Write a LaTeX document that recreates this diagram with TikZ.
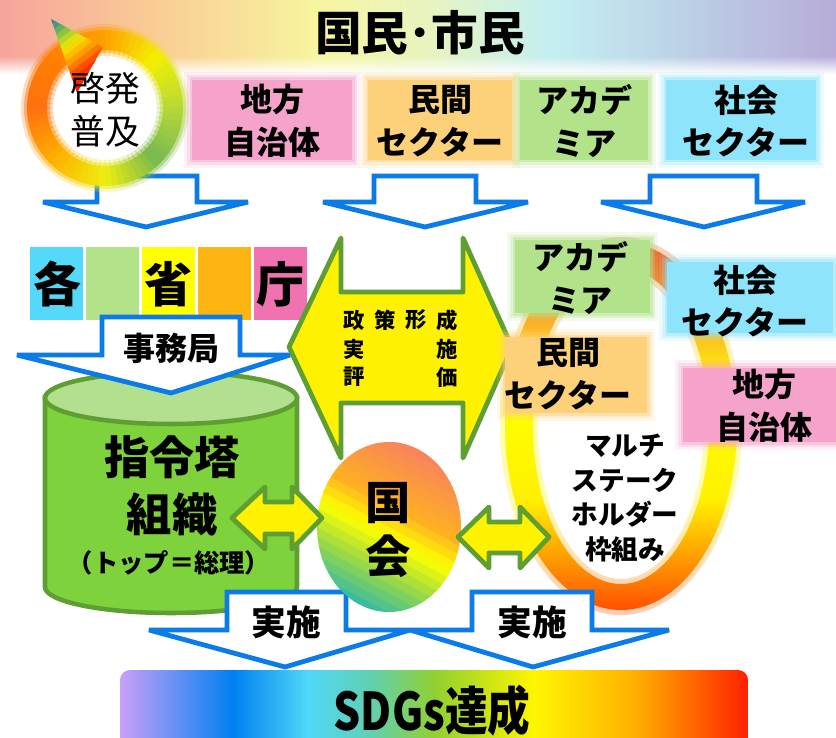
\documentclass[tikz,border=0pt]{standalone}
\usepackage{fontspec}
\setmainfont{Noto Sans CJK JP}
\newfontfamily\jpcond{Noto Sans CJK JP}[FakeStretch=0.82]
\usetikzlibrary{fadings}
\newcommand\jf[2]{\fontsize{#1}{#2}\selectfont}
% colours
\definecolor{bnA}{HTML}{F7A39C}\definecolor{bnB}{HTML}{F9CB94}\definecolor{bnC}{HTML}{F8F59F}
\definecolor{bnD}{HTML}{E6F4C2}\definecolor{bnE}{HTML}{C4EEF2}\definecolor{bnF}{HTML}{BCD0E6}
\definecolor{bnG}{HTML}{B8ACD8}
\definecolor{pinkbox}{HTML}{F5A3CB}\definecolor{orangebox}{HTML}{FDD07A}
\definecolor{greenbox}{HTML}{B2E28A}\definecolor{cyanbox}{HTML}{8EE4FA}
\definecolor{scA}{HTML}{55D9FB}\definecolor{scB}{HTML}{B2E28A}\definecolor{scC}{HTML}{FFFF00}
\definecolor{scD}{HTML}{FFB511}\definecolor{scE}{HTML}{F172B0}
\definecolor{cylbody}{HTML}{7ED23C}\definecolor{cyltop}{HTML}{B3E08E}\definecolor{leaf}{HTML}{5E9E32}
\definecolor{arrowblue}{HTML}{0A7BE8}
\definecolor{rc0}{HTML}{B8D838}\definecolor{rc1}{HTML}{F4F000}\definecolor{rc2}{HTML}{FFA000}
\definecolor{rc3}{HTML}{FF8000}\definecolor{rc4}{HTML}{FF7010}\definecolor{rc5}{HTML}{FFB000}
\definecolor{rc6}{HTML}{EEEE10}\definecolor{rc7}{HTML}{78B850}
\definecolor{brA}{HTML}{FF5000}\definecolor{brB}{HTML}{FFA000}\definecolor{brC}{HTML}{FFF000}
\definecolor{brD}{HTML}{FFFF00}\definecolor{brE}{HTML}{FFE010}\definecolor{brF}{HTML}{F8A030}
\definecolor{brG}{HTML}{F05A28}
\definecolor{sdA}{HTML}{C8A0F8}\definecolor{sdB}{HTML}{0080F0}\definecolor{sdC}{HTML}{50D8F8}
\definecolor{sdD}{HTML}{60D0B0}\definecolor{sdE}{HTML}{90D030}\definecolor{sdF}{HTML}{FFF500}
\definecolor{sdG}{HTML}{FFB000}\definecolor{sdH}{HTML}{FF2000}
% shadings
\pgfdeclarehorizontalshading{bannershade}{100bp}{color(0bp)=(bnA); color(25bp)=(bnA); color(34bp)=(bnB); color(44bp)=(bnC); color(51bp)=(bnD); color(58bp)=(bnE); color(66bp)=(bnF); color(75bp)=(bnG); color(100bp)=(bnG)}
\pgfdeclarehorizontalshading{sdg}{100bp}{color(0bp)=(sdA); color(25bp)=(sdA); color(34bp)=(sdB); color(40bp)=(sdC); color(45bp)=(sdD); color(50bp)=(sdE); color(58bp)=(sdF); color(66bp)=(sdG); color(75bp)=(sdH); color(100bp)=(sdH)}
\pgfdeclareverticalshading{bigring}{100bp}{color(0bp)=(brA); color(25bp)=(brA); color(32.5bp)=(brB); color(40bp)=(brC); color(52.5bp)=(brD); color(58.5bp)=(brE); color(66bp)=(brF); color(75bp)=(brG); color(100bp)=(brG)}
\tikzfading[name=fadedown, top color=transparent!0, bottom color=transparent!100]
\newcommand\fuzzybox[5]{%
  \foreach \e/\o in {8/0.15,5/0.25,2.5/0.4}{\fill[#1,opacity=\o] (#2-\e,#3-\e) rectangle (#4+\e,#5+\e);}
  \fill[#1] (#2,#3) rectangle (#4,#5);}
\tikzset{
  barrow/.style={draw=arrowblue, line width=3.6pt, fill=white, line join=miter, miter limit=2},
  yarrow/.style={draw=leaf, line width=3.6pt, fill=yellow, line join=round},
  boxtext/.style={font={\bfseries\jf{24}{32}}, align=center, inner sep=0pt},
  bold/.style={font={\bfseries\jf{#1}{#1}}, inner sep=0pt, align=center},
  polchar/.style={font={\bfseries\jf{16}{16}}, inner sep=0pt}
}
\begin{document}
\begin{tikzpicture}[x=0.75pt,y=-0.75pt]
\useasboundingbox (0,0) rectangle (836,738);
\fill[white] (0,0) rectangle (836,738);
% banner
\shade[shading=bannershade] (0,0) rectangle (836,56);
\shade[shading=bannershade, path fading=fadedown] (0,56) rectangle (836,74);
\node[bold=35] (title) at (420,33) {国民･市民};
% row 2 boxes
\fuzzybox{pinkbox}{192}{80}{352}{160}
\fuzzybox{orangebox}{368}{80}{512}{160}
\fuzzybox{greenbox}{520}{80}{648}{160}
\fuzzybox{cyanbox}{666}{80}{816}{160}
\node[boxtext] (tA) at (272,121) {地方\\自治体};
\node[boxtext] (tB) at (440,121) {民間\\セクター};
\node[boxtext] (tC) at (584,121) {アカデ\\ミア};
\node[boxtext] (tD) at (746,121) {社会\\セクター};
% row 3 arrows
\draw[barrow] (97,176) -- (97,202) -- (43,202) -- (146,227) -- (248,202) -- (197,202) -- (197,176) -- cycle;
\draw[barrow] (374,176) -- (374,202) -- (323,202) -- (425,227) -- (528,202) -- (476,202) -- (476,176) -- cycle;
\draw[barrow] (650,176) -- (650,202) -- (601,202) -- (704,227) -- (805,202) -- (757,202) -- (757,176) -- cycle;
% keihatsu ring (angles counter-clockwise from east, drawn in canvas units)
\fill[white] (105,108) circle[radius=60];
\foreach \w/\o/\ov in {32/0.25/0.4, 26/0.45/0.4, 20/1/0.8}{
  \foreach \a in {0,5,...,355}{
    \pgfmathtruncatemacro\k{floor((\a+2.5)/45)}
    \pgfmathtruncatemacro\kn{mod(\k+1,8)}
    \pgfmathtruncatemacro\p{round(100*(1-(\a+2.5-45*\k)/45))}
    \colorlet{segc}{rc\k!\p!rc\kn}
    \draw[segc, line width=\w*0.75pt, opacity=\o] ({105+68*cos(\a)},{108-68*sin(\a)}) arc[start angle=\a, end angle=\a+5+\ov, radius=51pt];
  }
}
% gradient triangle drawn as stripes
\begin{scope}
\clip (51,19) -- (103,47) -- (77,93) -- cycle;
\foreach \t/\c in {0/2A86A0, 5.5/4A9A80, 11/6AAE60, 16.5/8CC43E, 22/B8D428, 27.5/E0E010, 33/F5D800, 38.5/FFBC00, 44/FF9C00, 49.5/FF7800, 55/FF5000, 60.5/FF3000, 66/FF2000, 71.5/FF1800}{
  \definecolor{tc}{HTML}{\c}
  \fill[tc] ({51+(\t-1)*0.607-100*0.794},{19+(\t-1)*0.794+100*0.607}) -- ({51+(\t-1)*0.607+100*0.794},{19+(\t-1)*0.794-100*0.607}) -- ({51+(\t+6)*0.607+100*0.794},{19+(\t+6)*0.794-100*0.607}) -- ({51+(\t+6)*0.607-100*0.794},{19+(\t+6)*0.794+100*0.607}) -- cycle;
}
\end{scope}
\node[font={\jf{26}{32}}, align=center, inner sep=0pt] (keihatsu) at (105,110) {啓発\\普及};
% kakushocho
\fill[scA] (30,247) rectangle (83,320);
\fill[scB] (86,247) rectangle (139,320);
\fill[scC] (142,247) rectangle (195,320);
\fill[scD] (198,247) rectangle (251,320);
\fill[scE] (254,247) rectangle (307,320);
\node[bold=36] (kaku) at (57,284) {各};
\node[bold=36] (sho) at (168,284) {省};
\node[bold=36] (cho) at (280,284) {庁};
% cylinder
\filldraw[fill=cylbody, draw=leaf, line width=3.4pt] (45,398) -- (45,587) .. controls (45,601.4) and (101.4,613) .. (171,613) .. controls (240.6,613) and (297,601.4) .. (297,587) -- (297,398) -- cycle;
\filldraw[fill=cyltop, draw=leaf, line width=3.4pt] (171,398) ellipse[x radius=126, y radius=26];
\node[font={\bfseries\jf{34}{43}}, align=center, inner sep=0pt] (shirei) at (172,486) {指令塔\\組織};
\node[bold=19] (top) at (169,563) {（トップ＝総理）};
% jimukyoku arrow
\draw[barrow] (102,317) -- (102,355) -- (17,355) -- (171,393) -- (290,355) -- (240,355) -- (240,317) -- cycle;
\node[bold=24] (jimu) at (171,348) {事務局};
% policy double arrow
\draw[yarrow] (289,347) -- (341,238) -- (341,292) -- (463,292) -- (463,238) -- (512,347) -- (463,458) -- (463,403) -- (341,403) -- (341,458) -- cycle;
\node[polchar] (p1) at (354,320) {政};
\node[polchar] (p2) at (385,320) {策};
\node[polchar] (p3) at (416,320) {形};
\node[polchar] (p4) at (447,320) {成};
\node[polchar] (p5) at (354,349) {実};
\node[polchar] (p6) at (447,349) {施};
\node[polchar] (p7) at (354,377) {評};
\node[polchar] (p8) at (447,377) {価};
% big ring
\shade[shading=bigring, even odd rule, opacity=0.3] (621,426) ellipse[x radius=121, y radius=189] (621,426) ellipse[x radius=83, y radius=153];
\shade[shading=bigring, even odd rule] (621,426) ellipse[x radius=116, y radius=184] (621,426) ellipse[x radius=88, y radius=158];
\fuzzybox{greenbox}{515}{240}{650}{313}
\fuzzybox{cyanbox}{667}{262}{833}{333}
\fuzzybox{orangebox}{505}{337}{647}{413}
\fuzzybox{pinkbox}{683}{368}{836}{442}
\node[boxtext] (rA) at (580,278) {アカデ\\ミア};
\node[boxtext] (rB) at (745,301) {社会\\セクター};
\node[boxtext] (rC) at (568,374) {民間\\セクター};
\node[boxtext] (rD) at (764,406) {地方\\自治体};
% jisshi arrows
\draw[barrow] (227,592) -- (227,630) -- (149,630) -- (285,667) -- (410,630) -- (346,630) -- (346,592) -- cycle;
\draw[barrow] (472,592) -- (472,630) -- (410,630) -- (533,667) -- (669,630) -- (592,630) -- (592,592) -- cycle;
\node[bold=26] (j1) at (286,622) {実施};
\node[bold=26] (j2) at (532,622) {実施};
% kokkai: diagonal gradient from teal (lower left) to salmon (upper right), as stripes
\begin{scope}
\clip (389,527) ellipse[x radius=72, y radius=85];
\foreach \i/\c in {0/3BBC9E, 1/52C389, 2/68CA74, 3/7ED15F, 4/95D84A, 5/ACE038, 6/C4E928, 7/DBF318, 8/F3FC08, 9/FFF305, 10/FFDC0E, 11/FFC518, 12/FFB020, 13/FEA929, 14/FDA332, 15/FC9C3A, 16/FB9643, 17/FA904B, 18/F98A53, 19/F8835C}{
  \definecolor{kc}{HTML}{\c}
  \pgfmathsetmacro\ta{-84+8.4*\i}
  \pgfmathsetmacro\tb{\ta+9.2}
  \fill[kc] ({389+\ta*0.469-150*0.883},{527-\ta*0.883-150*0.469}) -- ({389+\ta*0.469+150*0.883},{527-\ta*0.883+150*0.469}) -- ({389+\tb*0.469+150*0.883},{527-\tb*0.883+150*0.469}) -- ({389+\tb*0.469-150*0.883},{527-\tb*0.883-150*0.469}) -- cycle;
}
\end{scope}
\node[font={\bfseries\jf{34}{40}}, align=center, inner sep=0pt] (kokkai) at (388,530) {国\\会};
% small double arrows
\draw[yarrow] (232,518) -- (265,487) -- (265,502) -- (292,502) -- (292,487) -- (322,518) -- (292,549) -- (292,534) -- (265,534) -- (265,549) -- cycle;
\draw[yarrow] (458,537) -- (489,507) -- (489,522) -- (520,522) -- (520,507) -- (549,537) -- (520,568) -- (520,553) -- (489,553) -- (489,568) -- cycle;
\node[font={\bfseries\jf{20}{26}}, align=center, inner sep=0pt] (multi) at (625,498) {マルチ\\ステーク\\ホルダー\\枠組み};
% SDGs bar
\shade[shading=sdg, rounded corners=7.5pt] (120,670) rectangle (748,760);
\node[font={\jpcond\bfseries\jf{39}{39}}, inner sep=0pt] (sdgs) at (432,711) {SDGs達成};
\end{tikzpicture}
\end{document}
